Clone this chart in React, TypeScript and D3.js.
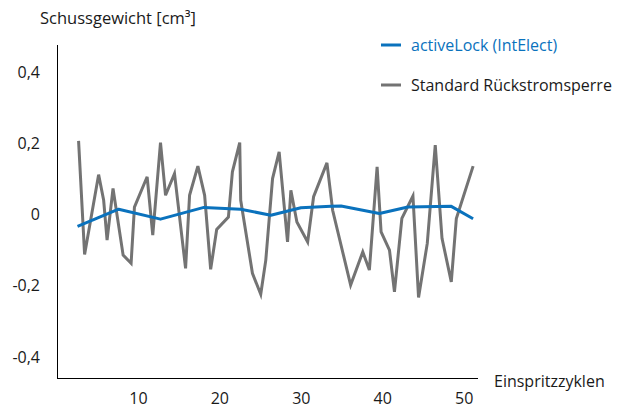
import React from "react";
import * as d3 from "d3";

const grayCycles = [2.65, 3.39, 5.11, 5.73, 6.15, 6.88, 8.12, 9.1, 9.51, 11.07, 11.76, 12.71, 13.33, 14.43, 15.79, 16.28, 17.3, 18.13, 18.87, 19.61, 21.05, 21.54, 22.44, 22.56, 24.0, 25.02, 25.64, 26.47, 27.28, 28.31, 28.72, 29.46, 30.78, 31.51, 33.15, 33.85, 36.06, 37.55, 38.36, 39.31, 39.8, 40.83, 41.44, 42.35, 43.71, 44.4, 45.47, 46.45, 47.28, 48.42, 49.04, 51.1];
const grayValues = [0.206, -0.113, 0.111, 0.039, -0.073, 0.072, -0.115, -0.138, 0.02, 0.105, -0.059, 0.201, 0.053, 0.114, -0.152, 0.053, 0.135, 0.053, -0.155, -0.043, -0.008, 0.119, 0.201, 0.039, -0.166, -0.225, -0.129, 0.1, 0.175, -0.078, 0.067, -0.022, -0.078, 0.049, 0.144, 0.011, -0.199, -0.106, -0.157, 0.133, -0.05, -0.101, -0.218, -0.012, 0.051, -0.234, -0.082, 0.194, -0.068, -0.19, -0.012, 0.135];

const blueCycles = [2.52, 7.57, 12.71, 18.04, 22.56, 26.26, 29.95, 33.65, 34.88, 39.59, 43.09, 48.42, 51.1];
const blueValues = [-0.034, 0.014, -0.014, 0.019, 0.014, -0.003, 0.018, 0.022, 0.023, 0.002, 0.02, 0.022, -0.013];

const xTicks = [10, 20, 30, 40, 50];
const yTicks = [0.4, 0.2, 0, -0.2, -0.4];
const yTickLabels = ["0,4", "0,2", "0", "-0,2", "-0,4"];

const seriesNames = ["activeLock (IntElect)", "Standard Rückstromsperre"];
const BLUE = "#0a72bd";
const GRAY = "#737373";
const TEXT = "#1a1a1a";
const FONT = "'Open Sans', 'Noto Sans', sans-serif";

export default function App() {
  const width = 623;
  const height = 412;
  const x = d3.scaleLinear().domain([0, 51.7]).range([57, 478]);
  const y = d3.scaleLinear().domain([-0.46, 0.475]).range([378, 45]);

  const line = d3
    .line<[number, number]>()
    .x((d) => x(d[0]))
    .y((d) => y(d[1]));

  const gray: [number, number][] = grayCycles.map((c, i) => [c, grayValues[i]]);
  const blue: [number, number][] = blueCycles.map((c, i) => [c, blueValues[i]]);

  return (
    <svg
      width={width}
      height={height}
      style={{ position: "absolute", left: 0, top: 0, background: "#fff" }}
      fontFamily={FONT}
    >
      <text x={40} y={24} fontSize={16.5} fill={TEXT}>
        Schussgewicht [cm³]
      </text>

      {/* axes */}
      <line x1={x(0) + 0.5} x2={x(0) + 0.5} y1={y(0.475)} y2={y(-0.46)} stroke="#000" strokeWidth={1} />
      <line x1={x(0)} x2={x(51.7)} y1={y(-0.46) + 0.5} y2={y(-0.46) + 0.5} stroke="#000" strokeWidth={1} />

      {yTicks.map((t, i) => (
        <text key={t} x={40} y={y(t)} textAnchor="end" dominantBaseline="central" fontSize={16} fill={TEXT}>
          {yTickLabels[i]}
        </text>
      ))}
      {xTicks.map((t) => (
        <text key={t} x={x(t)} y={398} textAnchor="middle" dominantBaseline="central" fontSize={16} fill={TEXT}>
          {t}
        </text>
      ))}
      <text x={494} y={381} dominantBaseline="central" fontSize={16} fill={TEXT}>
        Einspritzzyklen
      </text>

      <path d={line(gray) || ""} fill="none" stroke={GRAY} strokeWidth={3} strokeLinejoin="miter" />
      <path d={line(blue) || ""} fill="none" stroke={BLUE} strokeWidth={3} strokeLinejoin="round" />

      {/* legend */}
      <line x1={381} x2={401} y1={45} y2={45} stroke={BLUE} strokeWidth={3} />
      <text x={411} y={45} dominantBaseline="central" fontSize={16} fill={BLUE}>
        {seriesNames[0]}
      </text>
      <line x1={381} x2={401} y1={85} y2={85} stroke={GRAY} strokeWidth={3} />
      <text x={411} y={85} dominantBaseline="central" fontSize={16} fill={TEXT}>
        {seriesNames[1]}
      </text>
    </svg>
  );
}
